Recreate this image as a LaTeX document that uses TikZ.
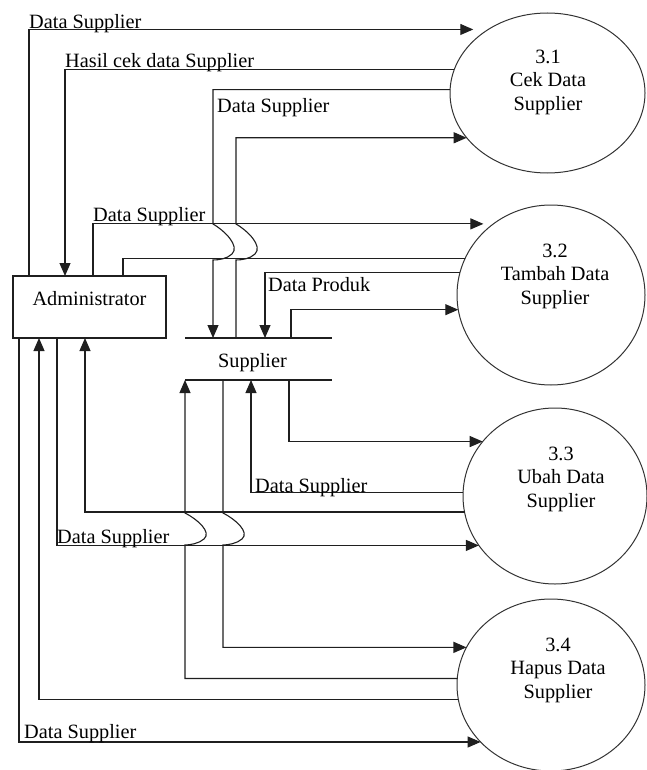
\documentclass[tikz,border=0pt]{standalone}
\usepackage{fontspec}
\setmainfont{Liberation Serif}
\usetikzlibrary{arrows.meta,shapes.geometric}
\begin{document}
\begin{tikzpicture}[x=1pt,y=-1pt,
  font=\fontsize{20.3}{23.5}\selectfont,
  line/.style={draw=black!88, line width=1.1pt},
  flow/.style={line, -{Triangle[length=13pt,width=11pt]}},
  proc/.style={ellipse, draw=black!80, line width=1pt, inner sep=0pt, outer sep=0pt},
  ptext/.style={align=center, inner sep=0pt},
  lbl/.style={anchor=base west, inner sep=0pt},
  entity/.style={rectangle, draw=black!88, line width=1.1pt, inner sep=0pt, outer sep=0pt},
]
\useasboundingbox (0,0) rectangle (646,770);

% external entity and data store
\node[entity, minimum width=153pt, minimum height=62pt,
      text height=14pt, text depth=18pt] (admin) at (89.5,307) {Administrator};
\node[minimum width=147pt, minimum height=42pt, inner sep=0pt, outer sep=0pt] (store) at (258.5,359) {};
\draw[line] (store.north west) -- (store.north east);
\draw[line] (store.south west) -- (store.south east);
\node[anchor=base, inner sep=0pt] (storetxt) at (252.5,367) {Supplier};

% processes
\node[proc, minimum width=195pt, minimum height=160pt] (p31) at (547.5,93) {};
\node[proc, minimum width=188pt, minimum height=180pt] (p32) at (551,295) {};
\node[proc, minimum width=184pt, minimum height=176pt] (p33) at (555,496) {};
\node[proc, minimum width=188pt, minimum height=172pt] (p34) at (551,685) {};
\node[ptext] (t31) at ([xshift=0.5pt,yshift=11pt]p31.center) {3.1\\Cek Data\\Supplier};
\node[ptext] (t32) at ([xshift=4pt,yshift=19pt]p32.center) {3.2\\Tambah Data\\Supplier};
\node[ptext] (t33) at ([xshift=6pt,yshift=17pt]p33.center) {3.3\\Ubah Data\\Supplier};
\node[ptext] (t34) at ([xshift=7pt,yshift=15pt]p34.center) {3.4\\Hapus Data\\Supplier};

% flows of process 3.1
\draw[flow, shorten >=15pt] ([xshift=16pt]admin.north west) |- (p31.133.65);
\draw[flow] (p31.166.17) -| ([xshift=52pt]admin.north west);
\draw[flow] (p31.178.82) -| (213,224)
  .. controls (225,231) and (240,246) .. (232,254)
  .. controls (227,259) and (218,260) .. (213,260)
  -- ([xshift=28pt]store.north west);
\draw[flow] ([xshift=51pt]store.north west) -- (236,260)
  .. controls (241,260) and (250,259) .. (255,254)
  .. controls (263,246) and (248,231) .. (236,224)
  |- (p31.209.97);

% flows of process 3.2
\draw[flow, shorten >=10pt] ([xshift=80pt]admin.north west) |- (p32.129.14);
\draw[line] ([xshift=110pt]admin.north west) |- (p32.157.99);
\draw[flow] (p32.166.43) -| ([xshift=80pt]store.north west);
\draw[flow] ([xshift=106pt]store.north west) |- (p32.189.19);

% flows of process 3.3
\draw[flow] ([xshift=104pt]store.south west) |- (p33.143.37);
\draw[flow] (p33.178.75) -| ([xshift=66pt]store.south west);
\draw[flow] (p33.190.03) -| ([xshift=72pt]admin.south west);
\draw[flow] ([xshift=44pt]admin.south west) |- (p33.213.44);

% flows of process 3.4
\draw[flow] ([xshift=38pt]store.south west) -- (223,513)
  .. controls (235,519) and (250,532) .. (242,539)
  .. controls (237,543.5) and (228,545) .. (223,545)
  |- (p34.156.44);
\draw[flow] (p34.176.34) -| (185,545)
  .. controls (190,545) and (199,543.5) .. (204,539)
  .. controls (212,532) and (197,519) .. (185,513)
  -- (store.south west);
\draw[flow] (p34.189.2) -| ([xshift=26pt]admin.south west);
\draw[flow] ([xshift=6pt]admin.south west) |- (p34.219.88);

% flow labels
\node[lbl] (l1) at (29,29) {Data Supplier};
\node[lbl] (l2) at (65,67.5) {Hasil cek data Supplier};
\node[lbl] (l3) at (217,112.5) {Data Supplier};
\node[lbl] (l4) at (93,221) {Data Supplier};
\node[lbl] (l5) at (268,291) {Data Produk};
\node[lbl] (l6) at (255,492) {Data Supplier};
\node[lbl] (l7) at (57,543) {Data Supplier};
\node[lbl] (l8) at (24,738) {Data Supplier};
\end{tikzpicture}
\end{document}
